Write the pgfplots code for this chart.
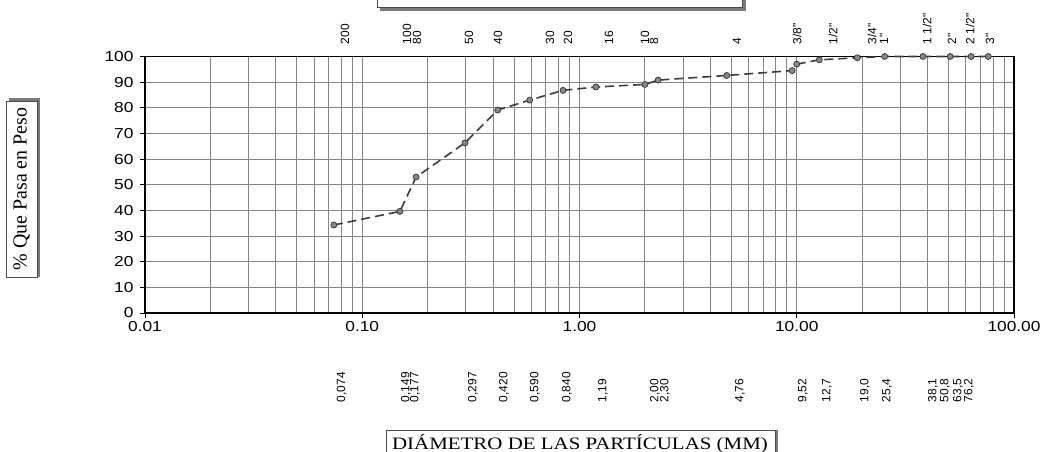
\documentclass[border=0pt]{standalone}
\usepackage{pgfplots}
\pgfplotsset{compat=1.18}
\usepackage{fontspec}
\setmainfont{Liberation Serif}
\newfontfamily\tickfont[FakeStretch=1.2]{Liberation Sans}
\newfontfamily\labfont{Liberation Sans}
\newfontfamily\serifwide[FakeStretch=1.2]{Liberation Serif}
\definecolor{gridc}{HTML}{858585}
\definecolor{curvec}{HTML}{3C3C3C}
\definecolor{markc}{HTML}{888888}
\definecolor{shadowc}{HTML}{7A7A7A}

\pgfplotstableread{
x y
0.074 34.3
0.149 39.6
0.177 53.0
0.297 66.3
0.420 79.1
0.590 83.0
0.840 86.8
1.19 88.1
2.00 89.1
2.30 90.8
4.76 92.6
9.52 94.5
10.0 97.0
12.7 98.7
19.0 99.5
25.4 100
38.1 100
50.8 100
63.5 100
76.2 100
}\granulo

\newcommand{\toplab}[2]{\node[rotate=90,anchor=west,inner sep=0pt,font=\labfont\fontsize{12}{12}\selectfont] at (rel axis cs:#1,1.047) {#2};}
\newcommand{\botlab}[2]{\node[rotate=90,anchor=west,inner sep=0pt,font=\labfont\fontsize{12}{12}\selectfont] at (rel axis cs:#1,-0.3485) {#2};}

\begin{document}
\begin{tikzpicture}[x=1bp,y=1bp]
\useasboundingbox (0,0) rectangle (1044,452);
% top title box (cut off)
\fill[shadowc] (380,441) rectangle (746,460);
\filldraw[fill=white,draw=black!70,line width=0.6bp] (377,445) rectangle (742,470);
% y label box
\fill[shadowc] (9,175) rectangle (40,354);
\filldraw[fill=white,draw=black!70,line width=0.6bp] (6,175) rectangle (37,351);
\node[rotate=90,font=\fontsize{20}{20}\selectfont] at (21.5,263) {\% Que Pasa en Peso};
% x label box
\fill[shadowc] (389,-8) rectangle (778,22);
\filldraw[fill=white,draw=black!70,line width=0.6bp] (386,-8) rectangle (775,22);
\node[font=\serifwide\fontsize{17.5}{17.5}\selectfont] at (580,8.5) {DIÁMETRO DE LAS PARTÍCULAS (MM)};

\begin{axis}[
  at={(145bp,139bp)}, anchor=south west,
  scale only axis, width=869bp, height=256.5bp,
  xmode=log, xmin=0.01, xmax=100, ymin=0, ymax=100,
  ytick={0,10,...,100},
  xtick={0.01,0.1,1,10,100},
  xticklabels={0.01,0.10,1.00,10.00,100.00},
  minor xtick={0.02,0.03,0.04,0.05,0.06,0.07,0.08,0.09,0.2,0.3,0.4,0.5,0.6,0.7,0.8,0.9,2,3,4,5,6,7,8,9,20,30,40,50,60,70,80,90},
  xmajorgrids=true, xminorgrids=true, ymajorgrids=true,
  major grid style={gridc, line width=0.9bp},
  minor grid style={gridc, line width=0.9bp},
  axis line style={black, line width=1.2bp},
  tick pos=left, tick align=outside,
  major tick length=5bp, minor tick length=0pt,
  tick style={black, line width=0.8bp},
  /pgf/number format/assume math mode=true,
  ticklabel style={font=\tickfont\fontsize{14.5}{14.5}\selectfont},
  yticklabel style={xshift=-3bp},
  clip=false,
]
\addplot[curvec, line width=1.6bp, dash pattern=on 9bp off 5bp,
  mark=*, mark size=3bp,
  mark options={solid, fill=markc, draw=curvec, line width=0.8bp}]
  table[x=x,y=y] {\granulo};

% sieve numbers (top)
\toplab{0.2301}{200}
\toplab{0.3015}{100}
\toplab{0.3130}{80}
\toplab{0.3728}{50}
\toplab{0.4062}{40}
\toplab{0.4661}{30}
\toplab{0.4868}{20}
\toplab{0.5339}{16}
\toplab{0.5754}{10}
\toplab{0.5858}{8}
\toplab{0.6812}{4}
\toplab{0.7503}{3/8"}
\toplab{0.7917}{1/2"}
\toplab{0.8366}{3/4"}
\toplab{0.8504}{1"}
\toplab{0.8999}{1 1/2"}
\toplab{0.9287}{2"}
\toplab{0.9494}{2 1/2"}
\toplab{0.9724}{3"}
% sieve openings (bottom)
\botlab{0.2264}{0,074}
\botlab{0.3003}{0,149}
\botlab{0.3107}{0,177}
\botlab{0.3774}{0,297}
\botlab{0.4131}{0,420}
\botlab{0.4488}{0,590}
\botlab{0.4856}{0,840}
\botlab{0.5270}{1,19}
\botlab{0.5869}{2,00}
\botlab{0.5984}{2,30}
\botlab{0.6847}{4,76}
\botlab{0.7572}{9,52}
\botlab{0.7848}{12,7}
\botlab{0.8285}{19,0}
\botlab{0.8539}{25,4}
\botlab{0.9068}{38,1}
\botlab{0.9206}{50,8}
\botlab{0.9356}{63,5}
\botlab{0.9482}{76,2}
\end{axis}
\end{tikzpicture}
\end{document}
